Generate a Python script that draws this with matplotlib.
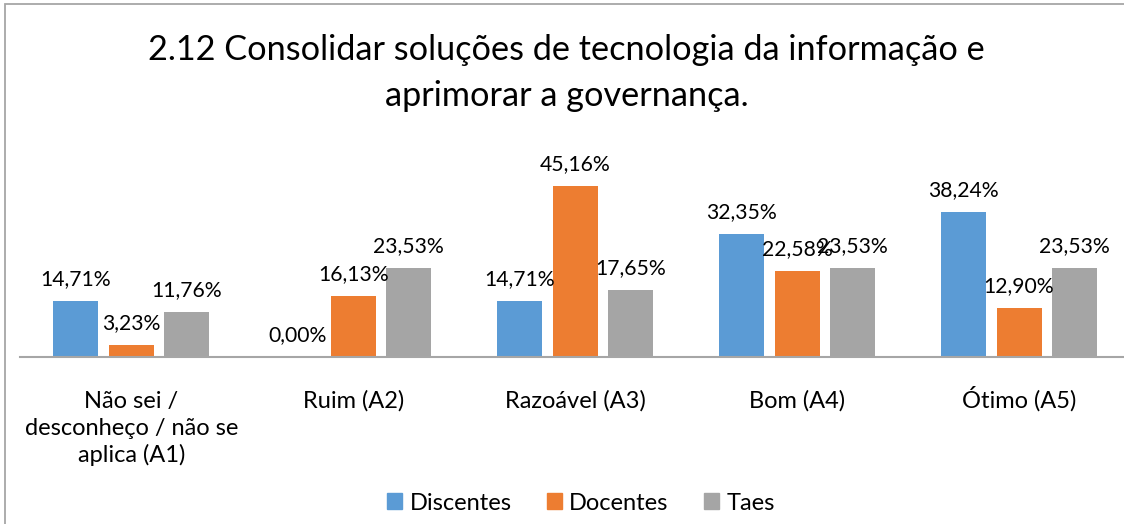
import numpy as np
import matplotlib
matplotlib.use("Agg")
import matplotlib.pyplot as plt
from matplotlib.patches import Rectangle, Patch

plt.rcParams['font.family'] = ['Lato', 'DejaVu Sans']

# chart data
categories = ["Não sei /\ndesconheço / não se\naplica (A1)", "Ruim (A2)",
              "Razoável (A3)", "Bom (A4)", "Ótimo (A5)"]
series_names = ["Discentes", "Docentes", "Taes"]
discentes = [14.71, 0.00, 14.71, 32.35, 38.24]
docentes = [3.23, 16.13, 45.16, 22.58, 12.90]
taes = [11.76, 23.53, 17.65, 23.53, 23.53]
colors = ["#5B9BD5", "#ED7D31", "#A5A5A5"]
title = "2.12 Consolidar soluções de tecnologia da informação e\naprimorar a governança."

W, H = 1124, 524
fig = plt.figure(figsize=(W / 100, H / 100), dpi=100)

# plot area (pixel based so that bars line up with the original)
left_px, right_px, base_px, top_px = 20.5, 1130, 357, 167.5
ax = fig.add_axes([left_px / W, (H - base_px) / H,
                   (right_px - left_px) / W, (base_px - top_px) / H])

x = np.arange(len(categories))
bw = 0.203
offsets = [-0.25, 0, 0.25]
for vals, off, col in zip([discentes, docentes, taes], offsets, colors):
    ax.bar(x + off, vals, width=bw, color=col, zorder=2)
    for xi, v in zip(x, vals):
        ax.annotate(f"{v:.2f}%".replace(".", ","), (xi + off, v),
                    xytext=(0, 11.5), textcoords="offset points",
                    ha="center", va="baseline", fontsize=15.2, color="#000000")

ax.set_xlim(-0.5, len(categories) - 0.5)
ax.set_ylim(0, 50)
ax.set_yticks([])
ax.set_xticks([])
for s in ["top", "right", "left"]:
    ax.spines[s].set_visible(False)
ax.spines["bottom"].set_color("#A6A6A6")
ax.spines["bottom"].set_linewidth(1.5)
ax.patch.set_alpha(0)

# category labels, one text per line so that first lines share a baseline
first_pt, step_pt = 36.7, 19.4
for xi, cat in zip(x, categories):
    for i, line in enumerate(cat.split("\n")):
        ax.annotate(line, (xi, 0), xytext=(0, -(first_pt + i * step_pt)),
                    textcoords="offset points", ha="center", va="baseline",
                    fontsize=17, annotation_clip=False)

# title (va baseline pins the last line)
fig.text(566.5 / W, 1 - 106 / H, title, ha="center", va="baseline",
         fontsize=24.7, linespacing=1.55)

# legend
handles = [Patch(color=c, label=n) for c, n in zip(colors, series_names)]
fig.legend(handles=handles, loc="center", bbox_to_anchor=(581 / W, 1 - 503 / H),
           ncol=3, frameon=False, fontsize=17, handlelength=0.65,
           handleheight=0.65, handletextpad=0.3, columnspacing=1.5)

# chart border
fig.add_artist(Rectangle((5 / W, -0.1), 1.2, 0.1 + (H - 4) / H,
                         transform=fig.transFigure, fill=False,
                         ec="#A6A6A6", lw=1.3))

fig.savefig("out.png", dpi=100)
